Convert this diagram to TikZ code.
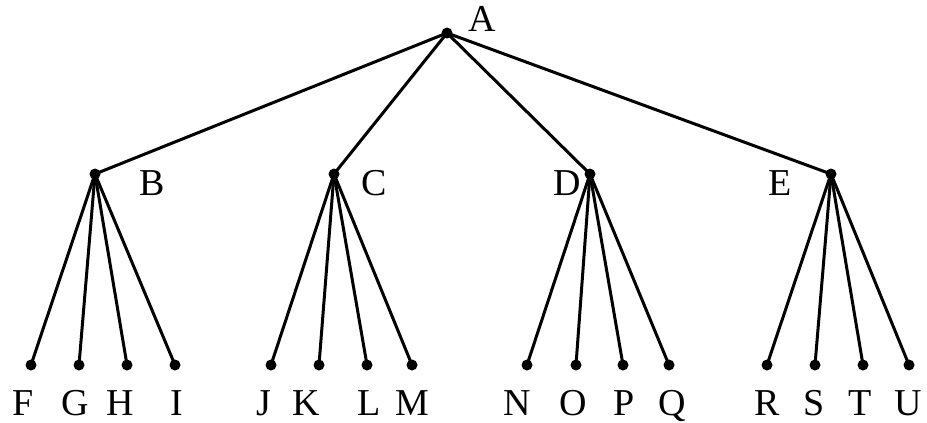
\documentclass[tikz,border=0pt]{standalone}
\usepackage{fontspec}
\setmainfont{Liberation Serif}
\begin{document}
\begin{tikzpicture}[x=1pt,y=-1pt,
  vtx/.style={circle,fill=black,inner sep=0pt,minimum size=11pt},
  edge/.style={line width=3pt},
  lbl/.style={inner sep=0pt,anchor=base,font=\fontsize{38}{38}\selectfont}]
\useasboundingbox (0,0) rectangle (927,423);
% vertices
\node[vtx] (A) at (447,33) {};
\node[vtx] (B) at (95,174) {};
\node[vtx] (C) at (334,174) {};
\node[vtx] (D) at (590,174) {};
\node[vtx] (E) at (831,174) {};
\foreach \n/\x in {F/31,G/79,H/127,I/175,J/271,K/319,L/367,M/412,
                   N/527,O/576,P/623,Q/669,R/767,S/815,T/863,U/909}
  \node[vtx] (\n) at (\x,365) {};
% edges
\foreach \c in {B,C,D,E} \draw[edge] (A.center) -- (\c.center);
\foreach \c in {F,G,H,I} \draw[edge] (B.center) -- (\c.center);
\foreach \c in {J,K,L,M} \draw[edge] (C.center) -- (\c.center);
\foreach \c in {N,O,P,Q} \draw[edge] (D.center) -- (\c.center);
\foreach \c in {R,S,T,U} \draw[edge] (E.center) -- (\c.center);
% labels
\node[lbl] (lA) at (482,31) {A};
\node[lbl] (lB) at (152,195) {B};
\node[lbl] (lC) at (374,195) {C};
\node[lbl] (lD) at (567,195) {D};
\node[lbl] (lE) at (780,195) {E};
\foreach \n/\x in {F/23,G/75,H/120,I/177,J/264,K/306,L/369,M/412,
                   N/517,O/573,P/624,Q/672,R/767,S/814,T/860,U/908}
  \node[lbl] (l\n) at (\x,415) {\n};
\end{tikzpicture}
\end{document}
